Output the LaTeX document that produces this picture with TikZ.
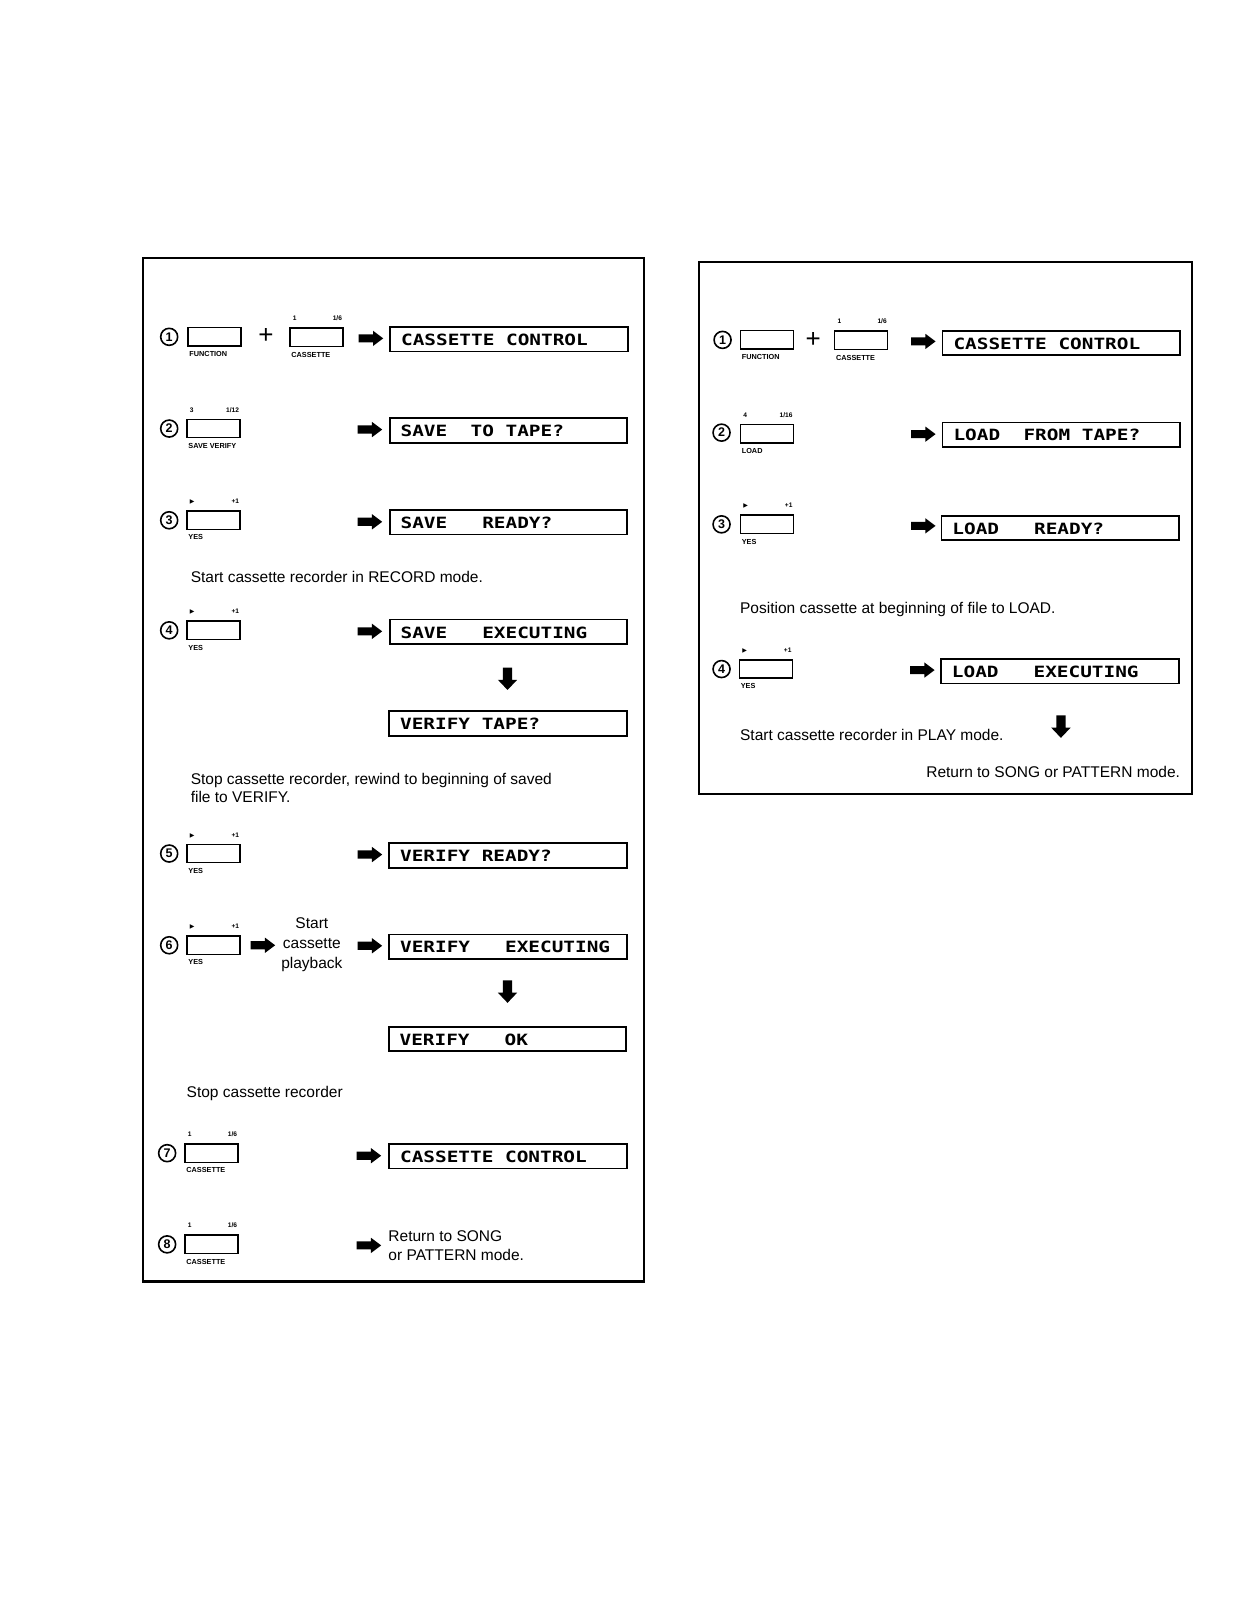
\documentclass[tikz,border=0pt]{standalone}
\usepackage{fontspec}
\setmainfont{Liberation Sans}
\newfontfamily\lcdfont[FakeStretch=1.25]{DejaVu Sans Mono Bold}
\newfontfamily\dejavu{DejaVu Sans}

\tikzset{
  frame/.style={draw=black, line width=2.2pt},
  keybox/.style={draw=black, line width=1.5pt, minimum width=53pt, minimum height=18.3pt, inner sep=0pt},
  lcdbox/.style={draw=black, line width=1.7pt, minimum width=237.5pt, minimum height=24.5pt, inner sep=0pt},
  lcdtext/.style={anchor=west, inner sep=0pt, font=\lcdfont\fontsize{15.5}{16}\selectfont},
  stepnum/.style={circle, draw=black, line width=1.6pt, minimum size=17pt, inner sep=0pt, font=\bfseries\fontsize{12.5}{12.5}\selectfont},
  keylab/.style={inner sep=0pt, font=\bfseries\fontsize{7.3}{7.5}\selectfont},
  toplab/.style={inner sep=0pt, font=\bfseries\fontsize{6.6}{7}\selectfont},
  bodytext/.style={inner sep=0pt, font=\fontsize{15.5}{17.5}\selectfont},
  plussign/.style={inner sep=0pt, font=\fontsize{26}{26}\selectfont},
  rarrow/.pic={\fill[black] (-12,-4) -- (2,-4) -- (2,-7.5) -- (12,0) -- (2,7.5) -- (2,4) -- (-12,4) -- cycle;},
  darrow/.pic={\fill[black] (-4.5,-11) -- (4.5,-11) -- (4.5,1) -- (9.5,1) -- (0,11) -- (-9.5,1) -- (-4.5,1) -- cycle;},
}

\newcommand{\keyat}[6]{%
  \node[keybox] (#1) at (#2,#3) {};
  \node[toplab, anchor=base west] (#1-tl) at ([xshift=3.5pt,yshift=6.5pt]#1.north west) {#4};
  \node[toplab, anchor=base east] (#1-tr) at ([xshift=-1.5pt,yshift=6.5pt]#1.north east) {#5};
  \node[keylab, anchor=north west] (#1-b) at ([xshift=2pt,yshift=-4.5pt]#1.south west) {#6};
}
\newcommand{\lcdat}[4]{%
  \node[lcdbox] (#1) at (#2,#3) {};
  \node[lcdtext] (#1-t) at ([xshift=11.5pt,yshift=-0.5pt]#1.west) {#4};
}
\newcommand{\playsym}{{\dejavu\mdseries\fontsize{6}{6}\selectfont ▶}}

\begin{document}
\begin{tikzpicture}[x=1.0188pt, y=-1.0188pt]
\fill[white] (0,0) rectangle (1223,1568);
\useasboundingbox (0,0) rectangle (1223,1568);

% ================= LEFT PANEL =================
\draw[frame] (140.7,253.5) rectangle (632.1,1257.4);

% Row 1
\node[stepnum] (L1n) at (166,330.5) {1};
\keyat{L1a}{210.5}{330.5}{}{}{FUNCTION}
\node[plussign] (L1p) at (261,330) {+};
\keyat{L1b}{310.5}{331}{1}{1/6}{CASSETTE}
\pic at (364,332) {rarrow};
\lcdat{L1d}{499.5}{333}{CASSETTE\ CONTROL}

% Row 2
\node[stepnum] (L2n) at (166,420.5) {2};
\keyat{L2a}{209.5}{420.5}{3}{1/12}{SAVE VERIFY}
\pic at (363,421.5) {rarrow};
\lcdat{L2d}{499}{422.5}{SAVE\ \ TO\ TAPE?}

% Row 3
\node[stepnum] (L3n) at (166,510.5) {3};
\keyat{L3a}{209.5}{510.5}{\playsym}{+1}{YES}
\pic at (363,512) {rarrow};
\lcdat{L3d}{499}{512.5}{SAVE\ \ \ READY?}

\node[bodytext, anchor=west] (Lrec) at (187,566) {Start cassette recorder in RECORD mode.};

% Row 4
\node[stepnum] (L4n) at (166,618.5) {4};
\keyat{L4a}{209.5}{618.5}{\playsym}{+1}{YES}
\pic at (363,619.5) {rarrow};
\lcdat{L4d}{499}{620}{SAVE\ \ \ EXECUTING}

\pic at (498,666) {darrow};
\lcdat{L4v}{498.5}{710}{VERIFY\ TAPE?}

\node[bodytext, anchor=west, align=left] (Lstop) at (187,773) {Stop cassette recorder, rewind to beginning of saved\\file to VERIFY.};

% Row 5
\node[stepnum] (L5n) at (166,837.5) {5};
\keyat{L5a}{209.5}{837.5}{\playsym}{+1}{YES}
\pic at (363,838.5) {rarrow};
\lcdat{L5d}{498.5}{839.5}{VERIFY\ READY?}

% Row 6
\node[stepnum] (L6n) at (166,927.5) {6};
\keyat{L6a}{209.5}{927.5}{\playsym}{+1}{YES}
\pic at (258,927.5) {rarrow};
\node[bodytext, align=center, font=\fontsize{15.5}{20.4}\selectfont] (L6s) at (306,927) {Start\\cassette\\playback};
\pic at (363,928) {rarrow};
\lcdat{L6d}{498.5}{929}{VERIFY\ \ \ EXECUTING}

\pic at (498,973) {darrow};
\lcdat{L6v}{498}{1019.5}{VERIFY\ \ \ OK}

\node[bodytext, anchor=west] (Lstop2) at (183,1073) {Stop cassette recorder};

% Row 7
\node[stepnum] (L7n) at (164,1131.5) {7};
\keyat{L7a}{207.5}{1131.5}{1}{1/6}{CASSETTE}
\pic at (362,1134) {rarrow};
\lcdat{L7d}{498.5}{1134.5}{CASSETTE\ CONTROL}

% Row 8
\node[stepnum] (L8n) at (164,1221) {8};
\keyat{L8a}{207.5}{1221}{1}{1/6}{CASSETTE}
\pic at (362,1222) {rarrow};
\node[bodytext, anchor=west, align=left, font=\fontsize{15.5}{19.4}\selectfont] (L8t) at (381,1222) {Return to SONG\\or PATTERN mode.};

% ================= RIGHT PANEL =================
\draw[frame] (686.1,256.9) rectangle (1169.3,778.7);

% Row 1
\node[stepnum] (R1n) at (709,333.5) {1};
\keyat{R1a}{752.5}{333.5}{}{}{FUNCTION}
\node[plussign] (R1p) at (798,333.5) {+};
\keyat{R1b}{845}{334}{1}{1/6}{CASSETTE}
\pic at (906,335) {rarrow};
\lcdat{R1d}{1041.5}{336.5}{CASSETTE\ CONTROL}

% Row 2
\node[stepnum] (R2n) at (708,424.5) {2};
\keyat{R2a}{752.5}{425.5}{4}{1/16}{LOAD}
\pic at (906,426) {rarrow};
\lcdat{R2d}{1041.5}{426.5}{LOAD\ \ FROM\ TAPE?}

% Row 3
\node[stepnum] (R3n) at (708,514.5) {3};
\keyat{R3a}{752.5}{514.5}{\playsym}{+1}{YES}
\pic at (906,516) {rarrow};
\lcdat{R3d}{1040.5}{518}{LOAD\ \ \ READY?}

\node[bodytext, anchor=west] (Rpos) at (726,598) {Position cassette at beginning of file to LOAD.};

% Row 4
\node[stepnum] (R4n) at (708,656.5) {4};
\keyat{R4a}{751.5}{656.5}{\playsym}{+1}{YES}
\pic at (905,657.5) {rarrow};
\lcdat{R4d}{1040}{658.5}{LOAD\ \ \ EXECUTING}

\node[bodytext, anchor=west] (Rplay) at (726,721) {Start cassette recorder in PLAY mode.};
\pic at (1041,713) {darrow};
\node[bodytext, anchor=east] (Rret) at (1158,757) {Return to SONG or PATTERN mode.};
\end{tikzpicture}
\end{document}
